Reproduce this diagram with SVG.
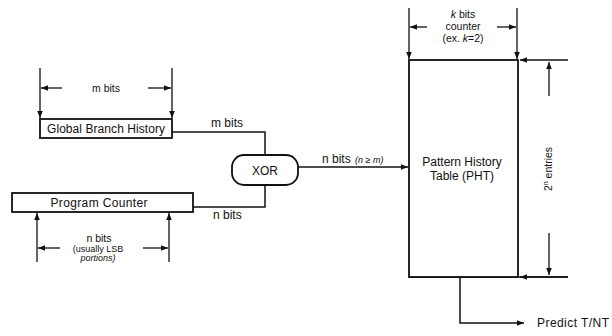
<svg xmlns="http://www.w3.org/2000/svg" width="612" height="336" viewBox="0 0 612 336">
<style>
text{font-family:"Liberation Sans",Arial,Helvetica,sans-serif;fill:#111}
.lbl{font-size:12px}
.cl{font-size:12px}
.dim{font-size:10.5px}
.sm{font-size:9px}
.box{fill:#fff;stroke:#111;stroke-width:1.8}
.ln{fill:none;stroke:#111;stroke-width:1.5}
.dl{fill:none;stroke:#111;stroke-width:1.3}
</style>
<defs>
<marker id="ah" viewBox="0 0 10 10" refX="10" refY="5" markerWidth="7" markerHeight="7" markerUnits="userSpaceOnUse" orient="auto">
<path d="M0,1 L10,5 L0,9 Z" fill="#111"/>
</marker>
</defs>
<g id="connectors">
<path class="ln" d="M172,132 H265 V155"/>
<path class="ln" d="M193,207 H265 V185"/>
<path class="ln" d="M298,167 H408" marker-end="url(#ah)"/>
<path class="ln" d="M409,277 H568"/>
<path class="ln" d="M460,277 V323 H524" marker-end="url(#ah)"/>
<text class="cl" x="211" y="127">m bits</text>
<text class="cl" x="213" y="219">n bits</text>
<text class="cl" x="322" y="163" font-size="12.5">n bits</text>
<text class="sm" x="355" y="163" font-style="italic">(<tspan>n</tspan> ≥ <tspan>m</tspan>)</text>
<text class="lbl" x="537" y="327" textLength="72">Predict T/NT</text>
</g>
<g id="dim-m">
<path class="dl" d="M40,68 V118" marker-end="url(#ah)"/>
<path class="dl" d="M172,68 V118" marker-end="url(#ah)"/>
<path class="dl" d="M62,88 H41" marker-end="url(#ah)"/>
<path class="dl" d="M148,88 H171" marker-end="url(#ah)"/>
<text class="dim" x="106" y="92" text-anchor="middle">m bits</text>
</g>
<g id="dim-n">
<path class="dl" d="M37,262 V213" marker-end="url(#ah)"/>
<path class="dl" d="M169,262 V213" marker-end="url(#ah)"/>
<path class="dl" d="M60,248 H38" marker-end="url(#ah)"/>
<path class="dl" d="M143,248 H168" marker-end="url(#ah)"/>
<text class="dim" x="99" y="242" text-anchor="middle">n bits</text>
<text class="sm" x="98" y="252" text-anchor="middle">(usually LSB</text>
<text class="sm" x="98" y="261" text-anchor="middle" font-style="italic">portions)</text>
</g>
<g id="dim-k">
<path class="dl" d="M409,8 V59" marker-end="url(#ah)"/>
<path class="dl" d="M517,8 V59" marker-end="url(#ah)"/>
<path class="dl" d="M427,27 H410" marker-end="url(#ah)"/>
<path class="dl" d="M497,27 H516" marker-end="url(#ah)"/>
<text class="dim" x="463" y="18" text-anchor="middle"><tspan font-style="italic">k</tspan> bits</text>
<text class="dim" x="463" y="30" text-anchor="middle">counter</text>
<text class="dim" x="463" y="42" text-anchor="middle">(ex. <tspan font-style="italic">k</tspan>=2)</text>
</g>
<g id="dim-entries">
<path class="dl" d="M568,60 H520" marker-end="url(#ah)"/>
<path class="dl" d="M568,277 H520" marker-end="url(#ah)"/>
<path class="dl" d="M549,96 V62" marker-end="url(#ah)"/>
<path class="dl" d="M549,233 V275" marker-end="url(#ah)"/>
<text class="dim" transform="translate(552,169) rotate(-90)" text-anchor="middle">2<tspan font-size="7" dy="-4">n</tspan><tspan dy="4"> entries</tspan></text>
</g>
<g id="gbh">
<rect class="box" x="40" y="119" width="132" height="19"/>
<text class="lbl" x="106" y="133" text-anchor="middle" textLength="118">Global Branch History</text>
</g>
<g id="pc">
<rect class="box" x="12" y="193" width="181" height="19"/>
<text class="lbl" x="99" y="207" text-anchor="middle" textLength="97">Program Counter</text>
</g>
<g id="xor">
<rect class="box" x="232" y="155" width="66" height="30" rx="12"/>
<text class="lbl" x="265" y="175" text-anchor="middle">XOR</text>
</g>
<g id="pht">
<rect class="box" x="409" y="60" width="109" height="217"/>
<text class="lbl" x="462" y="166" text-anchor="middle" font-size="12.5">Pattern History</text>
<text class="lbl" x="462" y="180" text-anchor="middle" font-size="12.5">Table (PHT)</text>
</g>
</svg>
